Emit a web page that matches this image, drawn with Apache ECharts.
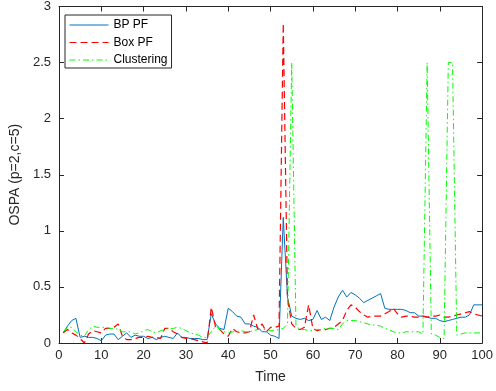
<!DOCTYPE html>
<html>
<head>
<meta charset="utf-8">
<script src="https://cdn.jsdelivr.net/npm/echarts@6/dist/echarts.min.js"></script>
<style>
html,body{margin:0;padding:0;background:#fff;}
#chart{width:496px;height:391px;}
</style>
</head>
<body>
<div id="chart"></div>
<script>
var timeSteps = [1,2,3,4,5,6,7,8,9,10,11,12,13,14,15,16,17,18,19,20,21,22,23,24,25,26,27,28,29,30,31,32,33,34,35,36,37,38,39,40,41,42,43,44,45,46,47,48,49,50,51,52,53,54,55,56,57,58,59,60,61,62,63,64,65,66,67,68,69,70,71,72,73,74,75,76,77,78,79,80,81,82,83,84,85,86,87,88,89,90,91,92,93,94,95,96,97,98,99,100];

var bpPF = [0.09,0.15,0.20,0.22,0.05,0.06,0.05,0.05,0.04,0.02,
  0.07,0.08,0.08,0.03,0.06,0.09,0.05,0.07,0.06,0.06,
  0.04,0.05,0.03,0.05,0.06,0.05,0.04,0.09,0.05,0.05,
  0.04,0.04,0.04,0.03,0.03,0.26,0.17,0.13,0.12,0.31,
  0.28,0.24,0.23,0.17,0.17,0.15,0.14,0.10,0.10,0.07,
  0.06,0.04,1.12,0.41,0.24,0.22,0.21,0.22,0.20,0.21,
  0.29,0.21,0.23,0.20,0.32,0.41,0.47,0.41,0.45,0.43,
  0.40,0.36,0.38,0.40,0.42,0.44,0.31,0.30,0.30,0.30,
  0.30,0.29,0.27,0.27,0.24,0.24,0.23,0.22,0.22,0.20,
  0.19,0.20,0.21,0.22,0.23,0.23,0.25,0.34,0.34,0.34];

var boxPF = [0.09,0.12,0.09,0.07,0.04,0.00,0.08,0.11,0.10,0.09,
  0.13,0.13,0.14,0.17,0.06,0.03,0.03,0.04,0.05,0.05,
  0.06,0.05,0.05,0.04,0.13,0.13,0.10,0.08,0.05,0.04,
  0.04,0.03,0.02,0.01,0.00,0.32,0.14,0.12,0.08,0.06,
  0.13,0.10,0.09,0.09,0.10,0.25,0.12,0.17,0.10,0.14,
  0.14,0.15,2.85,0.40,0.17,0.13,0.12,0.14,0.34,0.13,
  0.11,0.12,0.12,0.13,0.14,0.17,0.20,0.29,0.34,0.32,
  0.28,0.25,0.23,0.24,0.24,0.24,0.26,0.28,0.31,0.26,
  0.23,0.24,0.24,0.23,0.23,0.24,0.23,0.24,0.24,0.25,
  0.23,0.23,0.24,0.25,0.26,0.27,0.28,0.26,0.25,0.24];

var clustering = [0.10,0.14,0.14,0.10,0.07,0.06,0.12,0.15,0.14,0.14,
  0.14,0.13,0.13,0.12,0.10,0.10,0.10,0.08,0.09,0.11,
  0.12,0.10,0.09,0.11,0.12,0.13,0.13,0.14,0.13,0.11,
  0.09,0.08,0.07,0.05,0.05,0.10,0.15,0.12,0.10,0.09,
  0.10,0.10,0.11,0.10,0.10,0.11,0.12,0.12,0.12,0.11,
  0.11,0.12,0.13,0.17,2.50,0.15,0.12,0.12,0.11,0.11,
  0.12,0.12,0.13,0.13,0.13,0.12,0.17,0.20,0.20,0.20,
  0.19,0.18,0.17,0.16,0.16,0.15,0.13,0.12,0.10,0.09,
  0.09,0.10,0.10,0.10,0.10,0.08,2.50,0.08,0.07,0.05,
  0.04,2.50,2.50,0.07,0.08,0.09,0.09,0.09,0.09,0.09];

var seriesNames = ['BP PF', 'Box PF', 'Clustering'];
var xTicks = [0,10,20,30,40,50,60,70,80,90,100];
var yTicks = [0,0.5,1,1.5,2,2.5,3];

function pairs(vals){ return timeSteps.map(function(t,i){ return [t, vals[i]]; }); }

var axisColor = '#262626';
var font = 'Liberation Sans, Arial, Helvetica, sans-serif';

var chart = echarts.init(document.getElementById('chart'), null, {renderer:'canvas'});
chart.setOption({
  animation: false,
  backgroundColor: '#fff',
  grid: {left: 53, right: 12, top: 4, bottom: 48, containLabel: false},
  legend: {
    orient: 'vertical', left: 65, top: 15,
    data: seriesNames,
    itemWidth: 39, itemHeight: 12, itemGap: 5.5,
    padding: [4, 4, 2, 4],
    borderColor: axisColor, borderWidth: 1,
    backgroundColor: '#fff',
    itemStyle: {opacity: 0, borderWidth: 0},
    lineStyle: {width: 1},
    textStyle: {fontSize: 12, color: '#000', fontFamily: font}
  },
  xAxis: [{
    type: 'value', min: xTicks[0], max: xTicks[xTicks.length-1], interval: 10,
    name: 'Time', nameLocation: 'middle', nameGap: 27,
    nameTextStyle: {fontSize: 14, color: axisColor, fontFamily: font},
    axisLine: {show: true, lineStyle: {color: axisColor, width: 1}},
    axisTick: {show: true, inside: true, length: 5, lineStyle: {color: axisColor}},
    axisLabel: {fontSize: 13, color: axisColor, margin: 6, fontFamily: font},
    splitLine: {show: false}
  }, {
    type: 'value', position: 'top', min: xTicks[0], max: xTicks[xTicks.length-1], interval: 10,
    axisLine: {show: true, onZero: false, lineStyle: {color: axisColor, width: 1}},
    axisTick: {show: true, inside: true, length: 5, lineStyle: {color: axisColor}},
    axisLabel: {show: false}, splitLine: {show: false}
  }],
  yAxis: [{
    type: 'value', min: yTicks[0], max: yTicks[yTicks.length-1], interval: 0.5,
    name: 'OSPA (p=2,c=5)', nameLocation: 'middle', nameGap: 31,
    nameTextStyle: {fontSize: 14, color: axisColor, fontFamily: font},
    axisLine: {show: true, lineStyle: {color: axisColor, width: 1}},
    axisTick: {show: true, inside: true, length: 5, lineStyle: {color: axisColor}},
    axisLabel: {fontSize: 13, color: axisColor, margin: 8, fontFamily: font},
    splitLine: {show: false}
  }, {
    type: 'value', position: 'right', min: yTicks[0], max: yTicks[yTicks.length-1], interval: 0.5,
    axisLine: {show: true, onZero: false, lineStyle: {color: axisColor, width: 1}},
    axisTick: {show: true, inside: true, length: 5, lineStyle: {color: axisColor}},
    axisLabel: {show: false}, splitLine: {show: false}
  }],
  series: [{
    name: seriesNames[0], type: 'line', data: pairs(bpPF),
    symbol: 'none', showSymbol: false,
    lineStyle: {color: '#0072BD', width: 1}, itemStyle: {color: '#0072BD'}
  }, {
    name: seriesNames[1], type: 'line', data: pairs(boxPF),
    symbol: 'none', showSymbol: false,
    lineStyle: {color: '#FF0000', width: 1.2, type: [7, 4]}, itemStyle: {color: '#FF0000'}
  }, {
    name: seriesNames[2], type: 'line', data: pairs(clustering),
    symbol: 'none', showSymbol: false,
    lineStyle: {color: '#00FF00', width: 1, type: [6, 3, 1.5, 3]}, itemStyle: {color: '#00FF00'}
  }]
});
</script>
</body>
</html>
